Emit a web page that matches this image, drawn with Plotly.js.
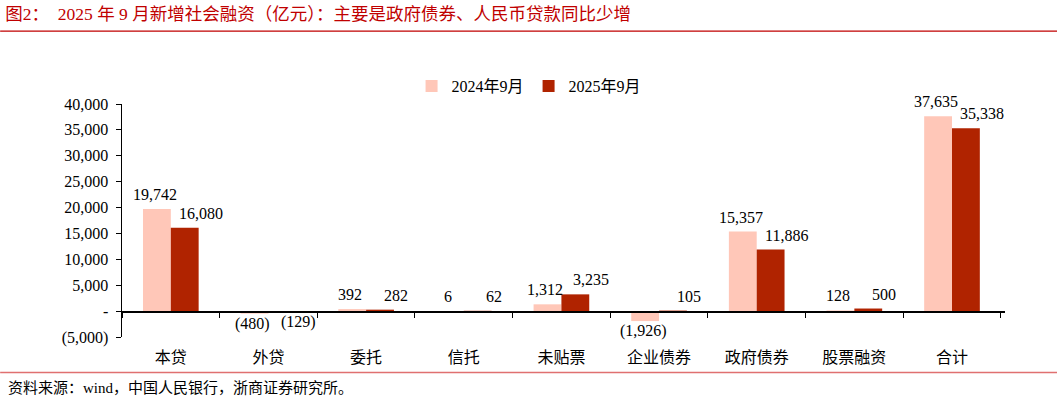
<!DOCTYPE html>
<html>
<head>
<meta charset="utf-8">
<script src="https://cdn.plot.ly/plotly-3.0.1.min.js"></script>
<style>
  html, body { margin: 0; padding: 0; background: #fff; }
  #chart { width: 1057px; height: 403px; }
</style>
</head>
<body>
<div id="chart"></div>
<script>
const categories = ['本贷', '外贷', '委托', '信托', '未贴票', '企业债券', '政府债券', '股票融资', '合计'];
const sep2024 = [19742, -480, 392, 6, 1312, -1926, 15357, 128, 37635];
const sep2025 = [16080, -129, 282, 62, 3235, 105, 11886, 500, 35338];
const seriesNames = ['2024年9月', '2025年9月'];
const yTickVals = [-5000, 0, 5000, 10000, 15000, 20000, 25000, 30000, 35000, 40000];
const yTickText = ['(5,000)', '-', '5,000', '10,000', '15,000', '20,000', '25,000', '30,000', '35,000', '40,000'];

const FONT = '"Liberation Serif", "Times New Roman", "Noto Sans CJK SC", serif';
const CJK = '"Noto Sans CJK SC", "Liberation Serif", serif';

function fmt(v) {
  const s = Math.abs(v).toLocaleString('en-US');
  return v < 0 ? '(' + s + ')' : s;
}

function barTrace(name, values, color) {
  return {
    type: 'bar',
    name: name,
    x: categories,
    y: values,
    marker: { color: color },
    hoverinfo: 'x+y'
  };
}

const data = [
  barTrace(seriesNames[0], sep2024, '#FFC7B8'),
  barTrace(seriesNames[1], sep2025, '#B02300')
];

// value labels, placed like the original: light ones over their bar, dark ones nudged right
function labels(values, dx) {
  return values.map((v, i) => ({
    x: categories[i], y: v, xref: 'x', yref: 'y',
    text: fmt(v), showarrow: false,
    xshift: dx,
    yanchor: v < 0 ? 'top' : 'bottom',
    yshift: v < 0 ? 0 : 5,
    borderpad: 0,
    font: { family: FONT, size: 16, color: '#000' }
  }));
}

const layout = {
  width: 1057,
  height: 403,
  paper_bgcolor: '#fff',
  plot_bgcolor: '#fff',
  margin: { l: 122, r: 52, t: 104, b: 66 },
  font: { family: FONT, size: 16, color: '#000' },
  barmode: 'group',
  bargap: 0.43,
  bargroupgap: 0,
  title: {
    text: '图2：  2025 年 9 月新增社会融资（亿元）：主要是政府债券、人民币贷款同比少增',
    xref: 'container', yref: 'container',
    x: 0.005, xanchor: 'left',
    y: 0.965, yanchor: 'middle',
    font: { family: FONT, size: 17.5, color: '#C00000' }
  },
  showlegend: true,
  legend: {
    orientation: 'h',
    x: 0.461, xanchor: 'center',
    y: 1.077, yanchor: 'middle',
    font: { family: FONT, size: 16 },
    itemwidth: 30,
    traceorder: 'normal'
  },
  xaxis: {
    type: 'category',
    anchor: 'free',
    position: 5000 / 45000,
    showline: true,
    linecolor: '#000',
    linewidth: 1.5,
    ticks: 'outside',
    tickson: 'boundaries',
    ticklen: 5,
    tickcolor: '#000',
    ticklabelstandoff: 31,
    tickfont: { family: CJK, size: 16 },
    showgrid: false,
    zeroline: false,
    fixedrange: true
  },
  yaxis: {
    range: [-5000, 40000],
    tickvals: yTickVals,
    ticktext: yTickText,
    showline: true,
    linecolor: '#000',
    linewidth: 1.5,
    ticks: 'outside',
    ticklen: 5,
    tickcolor: '#000',
    ticklabelstandoff: 4,
    showgrid: false,
    zeroline: false,
    tickfont: { family: FONT, size: 16 },
    fixedrange: true
  },
  shapes: [
    { type: 'line', xref: 'paper', yref: 'paper', x0: -0.138, x1: 1.059, y0: 1.313, y1: 1.313,
      line: { color: '#C00000', width: 1.2 } },
    { type: 'line', xref: 'paper', yref: 'paper', x0: -0.138, x1: 1.059, y0: -0.152, y1: -0.152,
      line: { color: '#E07070', width: 1.5 } }
  ],
  annotations: labels(sep2024, -16).concat(labels(sep2025, 30)).concat([
    { xref: 'paper', yref: 'paper', x: -0.131, y: -0.219, xanchor: 'left', yanchor: 'middle',
      showarrow: false, text: '资料来源：wind，中国人民银行，浙商证券研究所。',
      font: { family: FONT, size: 15, color: '#000' } }
  ])
};

Plotly.newPlot('chart', data, layout, { displayModeBar: false, staticPlot: true });
</script>
</body>
</html>
